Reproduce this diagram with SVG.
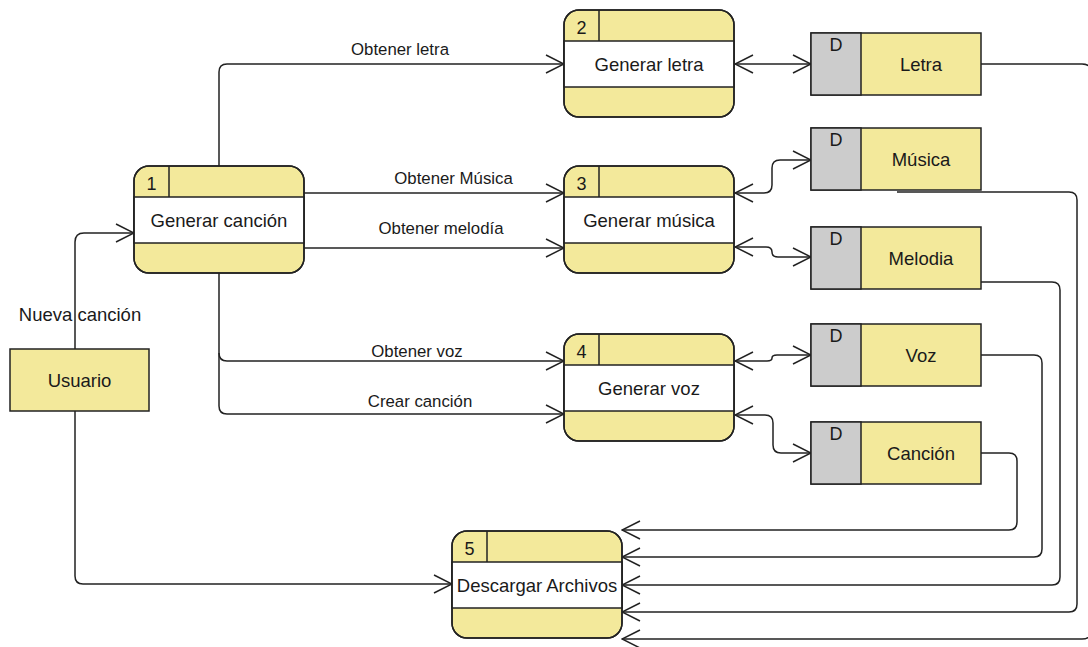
<svg xmlns="http://www.w3.org/2000/svg" width="1088" height="647" viewBox="0 0 1088 647">
  <style>
    .shape { fill: #F3E99B; stroke: #222; stroke-width: 1.5; }
    .band { fill: #ffffff; stroke: #222; stroke-width: 1.5; }
    .sep { stroke: #222; stroke-width: 1.5; fill: none; }
    .tab { fill: #CCCCCC; stroke: #222; stroke-width: 1.5; }
    .edge { fill: none; stroke: #222; stroke-width: 1.5; }
    text { font-family: "Liberation Sans", Arial, sans-serif; fill: #1a1a1a; }
    .lbl { font-size: 18.5px; text-anchor: middle; }
    .num { font-size: 18px; text-anchor: middle; }
    .elbl { font-size: 16.8px; text-anchor: middle; }
  </style>
  <defs>
    <marker id="arrow" viewBox="0 0 20 20" markerUnits="userSpaceOnUse" markerWidth="20" markerHeight="20" refX="19" refY="10" orient="auto-start-reverse">
      <path d="M1,1 L19,10 L1,19" fill="none" stroke="#222" stroke-width="1.5"/>
    </marker>
  </defs>

  <rect width="1088" height="647" fill="#ffffff"/>

  <!-- connectors -->
  <g id="connectors">
    <path class="edge" d="M75,349 V242 Q75,233 84,233 H134" marker-end="url(#arrow)"/>
    <path class="edge" d="M75,411 V576 Q75,584 83,584 H452" marker-end="url(#arrow)"/>
    <path class="edge" d="M219,166 V72 Q219,64 227,64 H564" marker-end="url(#arrow)"/>
    <path class="edge" d="M304,193 H564" marker-end="url(#arrow)"/>
    <path class="edge" d="M304,248 H564" marker-end="url(#arrow)"/>
    <path class="edge" d="M219,273 V353 Q219,361 227,361 H564" marker-end="url(#arrow)"/>
    <path class="edge" d="M219,353 V406 Q219,414 227,414 H564" marker-end="url(#arrow)"/>

    <path class="edge" d="M735,64 H811" marker-start="url(#arrow)" marker-end="url(#arrow)"/>
    <path class="edge" d="M735,193 H764 Q772,193 772,185 V168 Q772,160 780,160 H811" marker-start="url(#arrow)" marker-end="url(#arrow)"/>
    <path class="edge" d="M735,247 H766 Q772,247 772,252 Q772,257 778,257 H811" marker-start="url(#arrow)" marker-end="url(#arrow)"/>
    <path class="edge" d="M735,361 H767 Q772,361 772,358 Q772,355 777,355 H811" marker-start="url(#arrow)" marker-end="url(#arrow)"/>
    <path class="edge" d="M735,415 H765 Q773,415 773,423 V445 Q773,453 781,453 H811" marker-start="url(#arrow)" marker-end="url(#arrow)"/>

    <path class="edge" d="M981,453 H1009 Q1017,453 1017,461 V522 Q1017,530 1009,530 H622" marker-end="url(#arrow)"/>
    <path class="edge" d="M981,355 H1034 Q1042,355 1042,363 V549 Q1042,557 1034,557 H622" marker-end="url(#arrow)"/>
    <path class="edge" d="M981,282 H1052 Q1060,282 1060,290 V577 Q1060,585 1052,585 H622" marker-end="url(#arrow)"/>
    <path class="edge" d="M897,192 H1069 Q1077,192 1077,200 V604 Q1077,612 1069,612 H622" marker-end="url(#arrow)"/>
    <path class="edge" d="M981,64 H1082 Q1092,64 1092,74 V629 Q1092,639 1082,639 H622" marker-end="url(#arrow)"/>

    <text class="elbl" x="400" y="54.5">Obtener letra</text>
    <text class="elbl" x="453.5" y="184">Obtener Música</text>
    <text class="elbl" x="441" y="234">Obtener melodía</text>
    <text class="elbl" x="417" y="357">Obtener voz</text>
    <text class="elbl" x="420" y="407">Crear canción</text>
    <text class="lbl" x="80" y="320.5">Nueva canción</text>
  </g>

  <!-- external entity -->
  <g id="usuario">
    <rect class="shape" x="10" y="349" width="139" height="62"/>
    <text class="lbl" x="79.5" y="387">Usuario</text>
  </g>

  <!-- processes -->
  <g id="proc1">
    <rect class="shape" x="134" y="166" width="170" height="107" rx="15"/>
    <rect class="band" x="134" y="197" width="170" height="46"/>
    <line class="sep" x1="169" y1="166" x2="169" y2="197"/>
    <rect x="134" y="166" width="170" height="107" rx="15" fill="none" stroke="#222" stroke-width="1.5"/>
    <text class="num" x="151.5" y="190">1</text>
    <text class="lbl" x="219" y="227">Generar canción</text>
  </g>
  <g id="proc2">
    <rect class="shape" x="564" y="10" width="170" height="107" rx="15"/>
    <rect class="band" x="564" y="41" width="170" height="46"/>
    <line class="sep" x1="599" y1="10" x2="599" y2="41"/>
    <rect x="564" y="10" width="170" height="107" rx="15" fill="none" stroke="#222" stroke-width="1.5"/>
    <text class="num" x="581.5" y="34">2</text>
    <text class="lbl" x="649" y="71">Generar letra</text>
  </g>
  <g id="proc3">
    <rect class="shape" x="564" y="166" width="170" height="107" rx="15"/>
    <rect class="band" x="564" y="197" width="170" height="46"/>
    <line class="sep" x1="599" y1="166" x2="599" y2="197"/>
    <rect x="564" y="166" width="170" height="107" rx="15" fill="none" stroke="#222" stroke-width="1.5"/>
    <text class="num" x="581.5" y="190">3</text>
    <text class="lbl" x="649" y="227">Generar música</text>
  </g>
  <g id="proc4">
    <rect class="shape" x="564" y="334" width="170" height="107" rx="15"/>
    <rect class="band" x="564" y="365" width="170" height="46"/>
    <line class="sep" x1="599" y1="334" x2="599" y2="365"/>
    <rect x="564" y="334" width="170" height="107" rx="15" fill="none" stroke="#222" stroke-width="1.5"/>
    <text class="num" x="581.5" y="358">4</text>
    <text class="lbl" x="649" y="395">Generar voz</text>
  </g>
  <g id="proc5">
    <rect class="shape" x="452" y="531" width="170" height="107" rx="15"/>
    <rect class="band" x="452" y="562" width="170" height="46"/>
    <line class="sep" x1="487" y1="531" x2="487" y2="562"/>
    <rect x="452" y="531" width="170" height="107" rx="15" fill="none" stroke="#222" stroke-width="1.5"/>
    <text class="num" x="469.5" y="555">5</text>
    <text class="lbl" x="537" y="592">Descargar Archivos</text>
  </g>

  <!-- data stores -->
  <g id="store-letra">
    <rect class="shape" x="811" y="33" width="170" height="62"/>
    <rect class="tab" x="811" y="33" width="50" height="62"/>
    <text class="num" x="836" y="51">D</text>
    <text class="lbl" x="921" y="71">Letra</text>
  </g>
  <g id="store-musica">
    <rect class="shape" x="811" y="128" width="170" height="62"/>
    <rect class="tab" x="811" y="128" width="50" height="62"/>
    <text class="num" x="836" y="146">D</text>
    <text class="lbl" x="921" y="166">Música</text>
  </g>
  <g id="store-melodia">
    <rect class="shape" x="811" y="227" width="170" height="62"/>
    <rect class="tab" x="811" y="227" width="50" height="62"/>
    <text class="num" x="836" y="245">D</text>
    <text class="lbl" x="921" y="265">Melodia</text>
  </g>
  <g id="store-voz">
    <rect class="shape" x="811" y="324" width="170" height="62"/>
    <rect class="tab" x="811" y="324" width="50" height="62"/>
    <text class="num" x="836" y="342">D</text>
    <text class="lbl" x="921" y="362">Voz</text>
  </g>
  <g id="store-cancion">
    <rect class="shape" x="811" y="422" width="170" height="62"/>
    <rect class="tab" x="811" y="422" width="50" height="62"/>
    <text class="num" x="836" y="440">D</text>
    <text class="lbl" x="921" y="460">Canción</text>
  </g>
</svg>
